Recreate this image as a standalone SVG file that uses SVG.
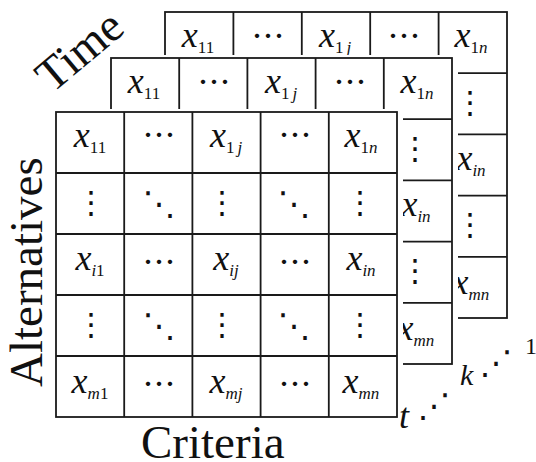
<svg xmlns="http://www.w3.org/2000/svg" width="536" height="462" viewBox="0 0 536 462">
<style>
.ln{fill:none;stroke:#1a1a1a;stroke-width:1.8}
.mask{fill:#fff;stroke:none}
.v{font-family:"Liberation Serif",serif;font-style:italic;font-size:36px;fill:#111;text-anchor:middle}
.s{font-size:17px}
.r{font-style:normal}
.d{font-family:"Noto Sans CJK SC","DejaVu Sans",sans-serif;fill:#111;text-anchor:middle}
.h{font-size:33px}
.vd{font-size:31px}
.dd{font-size:33px}
.lab{font-family:"Liberation Serif",serif;font-size:47px;fill:#111}
.idx{font-family:"Liberation Serif",serif;font-style:italic;fill:#111}
.one{font-family:"Liberation Serif",serif;font-style:normal;fill:#111}
</style>
<rect width="536" height="462" fill="#fff"/>

<!-- back layer -->
<g id="layer-back" transform="translate(165,12)">
  <g class="ln">
    <rect x="0" y="0" width="342" height="306"/>
    <path d="M68.4 0V306M136.8 0V306M205.2 0V306M273.6 0V306M0 61.2H342M0 122.4H342M0 183.6H342M0 244.8H342"/>
  </g>
  <text class="v" x="33" y="35">x<tspan class="s r" dy="6">11</tspan></text>
  <text class="d h" x="103" y="36">⋯</text>
  <text class="v" x="170" y="35">x<tspan class="s r" dy="6">1</tspan><tspan class="s" dx="3">j</tspan></text>
  <text class="d h" x="239" y="36">⋯</text>
  <text class="v" x="306" y="35">x<tspan class="s r" dy="6">1</tspan><tspan class="s">n</tspan></text>
  <text class="d vd" x="305" y="100.7">⋮</text>
  <text class="v" x="306" y="158">x<tspan class="s" dy="6">in</tspan></text>
  <text class="d vd" x="305" y="223">⋮</text>
  <text class="v" x="306" y="282">x<tspan class="s" dy="6">mn</tspan></text>
</g>

<!-- middle layer -->
<g id="layer-mid">
  <rect class="mask" x="105" y="55" width="353" height="312"/>
  <g transform="translate(111,58)">
    <g class="ln">
      <rect x="0" y="0" width="341" height="306"/>
      <path d="M68.2 0V306M136.4 0V306M204.6 0V306M272.8 0V306M0 61.2H341M0 122.4H341M0 183.6H341M0 244.8H341"/>
    </g>
    <text class="v" x="33" y="35">x<tspan class="s r" dy="6">11</tspan></text>
    <text class="d h" x="103" y="36">⋯</text>
    <text class="v" x="170" y="35">x<tspan class="s r" dy="6">1</tspan><tspan class="s" dx="3">j</tspan></text>
    <text class="d h" x="239" y="36">⋯</text>
    <text class="v" x="306" y="35">x<tspan class="s r" dy="6">1</tspan><tspan class="s">n</tspan></text>
    <text class="d vd" x="304" y="100.7">⋮</text>
    <text class="v" x="305" y="158">x<tspan class="s" dy="6">in</tspan></text>
    <text class="d vd" x="304" y="223">⋮</text>
    <text class="v" x="305" y="282">x<tspan class="s" dy="6">mn</tspan></text>
  </g>
</g>

<!-- front layer -->
<g id="layer-front">
  <rect class="mask" x="50" y="109" width="353" height="312"/>
  <g transform="translate(56,112)">
    <g class="ln">
      <rect x="0" y="0" width="341" height="305"/>
      <path d="M68.2 0V305M136.4 0V305M204.6 0V305M272.8 0V305M0 61H341M0 122H341M0 183H341M0 244H341"/>
    </g>
    <text class="v" x="34" y="35">x<tspan class="s r" dy="6">11</tspan></text>
    <text class="d h" x="103" y="35">⋯</text>
    <text class="v" x="170" y="35">x<tspan class="s r" dy="6">1</tspan><tspan class="s" dx="3">j</tspan></text>
    <text class="d h" x="239" y="35">⋯</text>
    <text class="v" x="305" y="35">x<tspan class="s r" dy="6">1</tspan><tspan class="s">n</tspan></text>

    <text class="d vd" x="35" y="100.5">⋮</text>
    <text class="d dd" x="103" y="103">⋱</text>
    <text class="d vd" x="166" y="100.5">⋮</text>
    <text class="d dd" x="238" y="103">⋱</text>
    <text class="d vd" x="304" y="100.5">⋮</text>

    <text class="v" x="34" y="158">x<tspan class="s" dy="6">i</tspan><tspan class="s r">1</tspan></text>
    <text class="d h" x="103" y="162">⋯</text>
    <text class="v" x="170" y="158">x<tspan class="s" dy="6">ij</tspan></text>
    <text class="d h" x="239" y="162">⋯</text>
    <text class="v" x="305" y="158">x<tspan class="s" dy="6">in</tspan></text>

    <text class="d vd" x="35" y="222.5">⋮</text>
    <text class="d dd" x="103" y="225">⋱</text>
    <text class="d vd" x="166" y="222.5">⋮</text>
    <text class="d dd" x="238" y="225">⋱</text>
    <text class="d vd" x="304" y="222.5">⋮</text>

    <text class="v" x="34" y="281">x<tspan class="s" dy="6">m</tspan><tspan class="s r">1</tspan></text>
    <text class="d h" x="103" y="284">⋯</text>
    <text class="v" x="170" y="281">x<tspan class="s" dy="6">mj</tspan></text>
    <text class="d h" x="239" y="284">⋯</text>
    <text class="v" x="305" y="281">x<tspan class="s" dy="6">mn</tspan></text>
  </g>
</g>

<!-- axis labels -->
<g id="labels">
  <text class="lab" transform="translate(52,94) rotate(-40)">Time</text>
  <text class="lab" font-size="49" transform="translate(42,387) rotate(-90)">Alternatives</text>
  <text class="lab" x="141" y="458">Criteria</text>
  <text class="idx" x="399" y="428" font-size="36">t</text>
  <text class="d dd" x="434" y="416.5">⋰</text>
  <text class="idx" x="460" y="385" font-size="30">k</text>
  <text class="d dd" x="496" y="373.5">⋰</text>
  <text class="one" x="525" y="354" font-size="24">1</text>
</g>
</svg>
